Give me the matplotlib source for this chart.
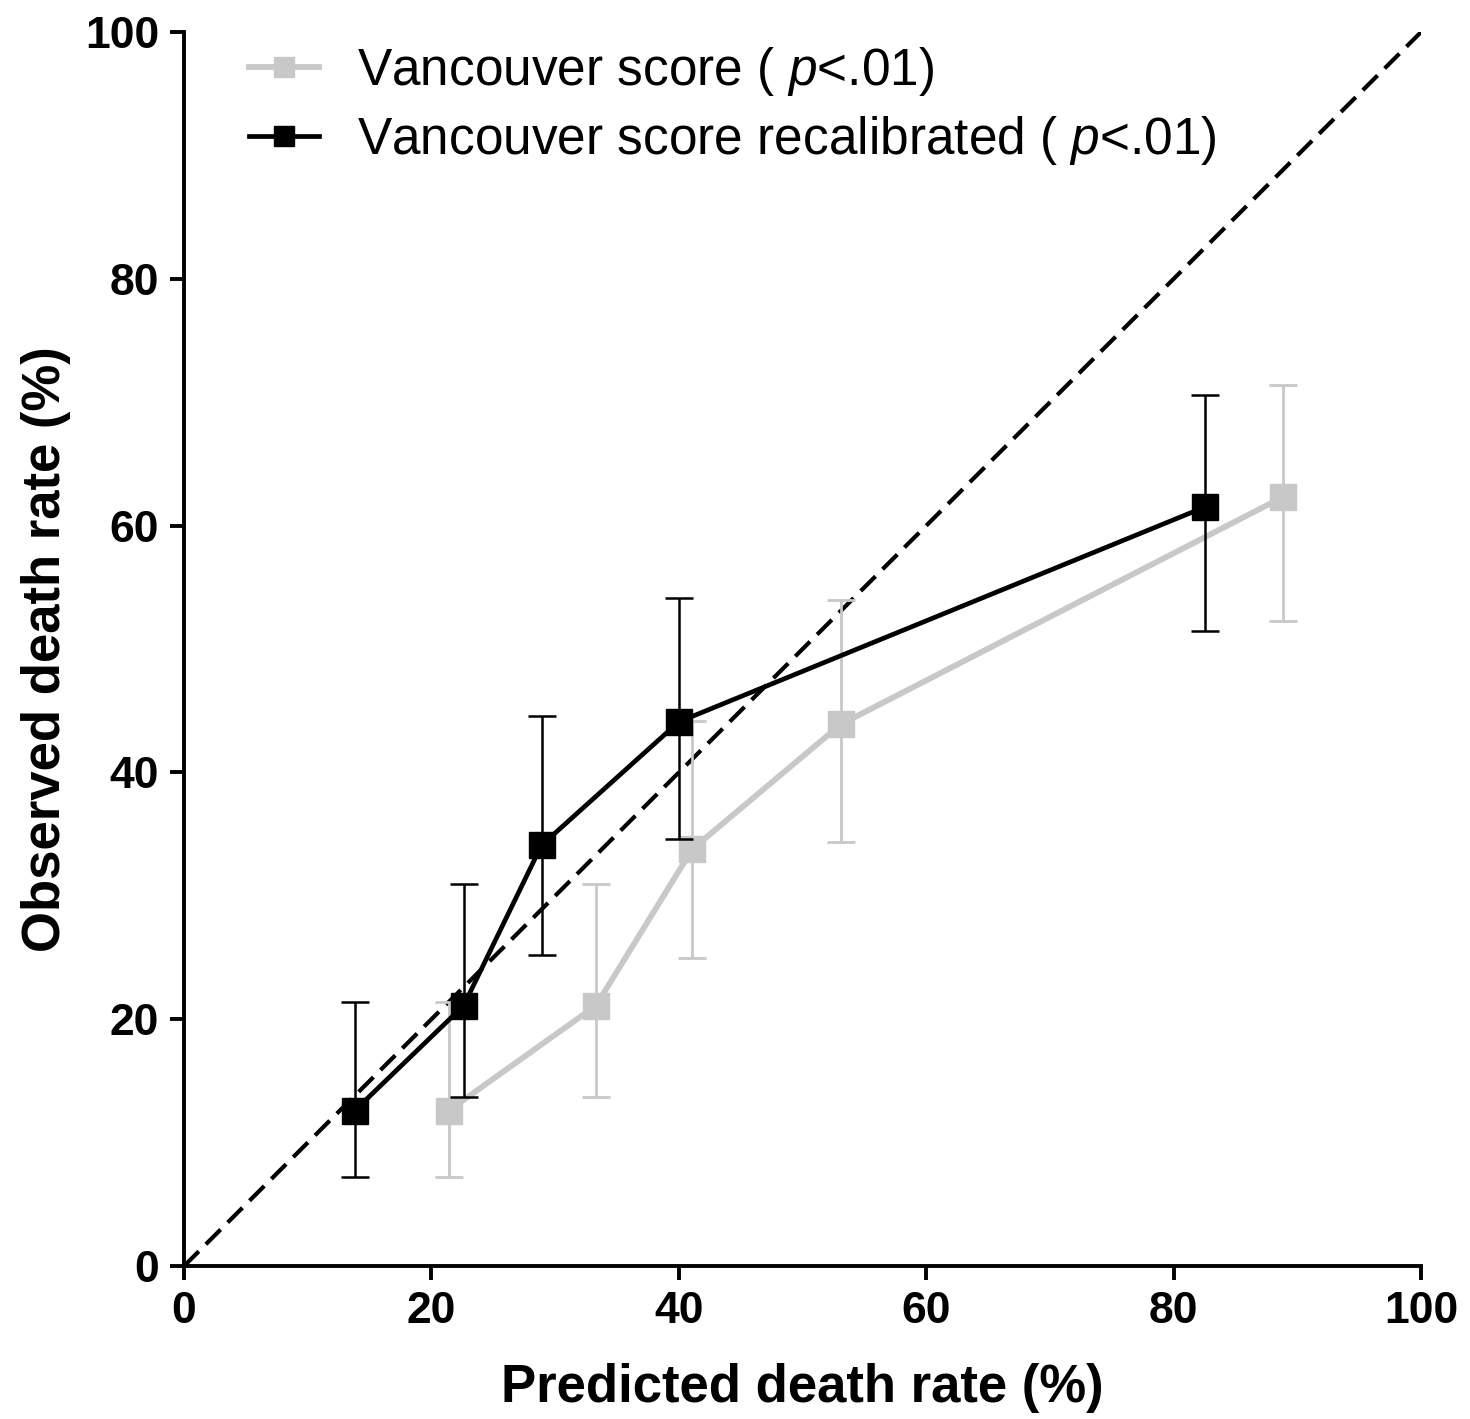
import matplotlib
matplotlib.use("Agg")
import matplotlib.pyplot as plt
from matplotlib.lines import Line2D

# Data
van_x = [21.4, 33.3, 41.1, 53.1, 88.8]
van_y = [12.6, 21.1, 33.8, 43.9, 62.3]
van_lo = [7.2, 13.7, 25.0, 34.4, 52.3]
van_hi = [21.4, 31.0, 44.2, 54.0, 71.4]

rec_x = [13.8, 22.6, 28.9, 40.0, 82.5]
rec_y = [12.6, 21.1, 34.1, 44.1, 61.5]
rec_lo = [7.2, 13.7, 25.2, 34.6, 51.5]
rec_hi = [21.4, 31.0, 44.6, 54.1, 70.6]

ticks = [0, 20, 40, 60, 80, 100]
labels = ["Vancouver score ( $\\it{p}$<.01)", "Vancouver score recalibrated ( $\\it{p}$<.01)"]

plt.rcParams['font.family'] = ['Liberation Sans', 'DejaVu Sans']
plt.rcParams['mathtext.fontset'] = 'custom'
plt.rcParams['mathtext.it'] = 'Liberation Sans:italic'
plt.rcParams['mathtext.rm'] = 'Liberation Sans'

fig = plt.figure(figsize=(14.7, 14.19), dpi=100)
ax = fig.add_axes([0.1252, 0.1078, 0.8415, 0.8696])

gray = '#c8c8c8'
# diagonal reference
ax.plot([0, 100], [0, 100], color='black', lw=3, ls=(0, (5, 2.4)), zorder=2)

def err(y, lo, hi):
    return [[a - b for a, b in zip(y, lo)], [b - a for a, b in zip(y, hi)]]

ax.errorbar(van_x, van_y, yerr=err(van_y, van_lo, van_hi), color=gray, lw=4.2,
            marker='s', ms=19, elinewidth=2, capsize=10, capthick=2, zorder=3)
ax.errorbar(rec_x, rec_y, yerr=err(rec_y, rec_lo, rec_hi), color='black', lw=3.4,
            marker='s', ms=19, elinewidth=1.8, capsize=10, capthick=1.8, zorder=4)

ax.set_xlim(0, 100)
ax.set_ylim(0, 100)
ax.set_xticks(ticks)
ax.set_yticks(ticks)
ax.set_xticklabels([str(t) for t in ticks])
ax.set_yticklabels([str(t) for t in ticks])
for s in ['top', 'right']:
    ax.spines[s].set_visible(False)
for s in ['left', 'bottom']:
    ax.spines[s].set_linewidth(2.8)
ax.tick_params(axis='both', direction='out', length=10, width=2.8, labelsize=32, pad=8)
for lab in ax.get_xticklabels() + ax.get_yticklabels():
    lab.set_fontweight('bold')
ax.set_xlabel('Predicted death rate (%)', fontsize=38, fontweight='bold', labelpad=22)
ax.set_ylabel('Observed death rate (%)', fontsize=38, fontweight='bold', labelpad=10)

handles = [Line2D([], [], color=gray, lw=4.2, marker='s', ms=14),
           Line2D([], [], color='black', lw=3.4, marker='s', ms=14)]
leg = ax.legend(handles, labels, loc='upper left', bbox_to_anchor=(0.015, 1.027), frameon=False,
                fontsize=37, handlelength=1.37, handletextpad=0.74, labelspacing=0.32)

fig.savefig('out.png', dpi=100)
